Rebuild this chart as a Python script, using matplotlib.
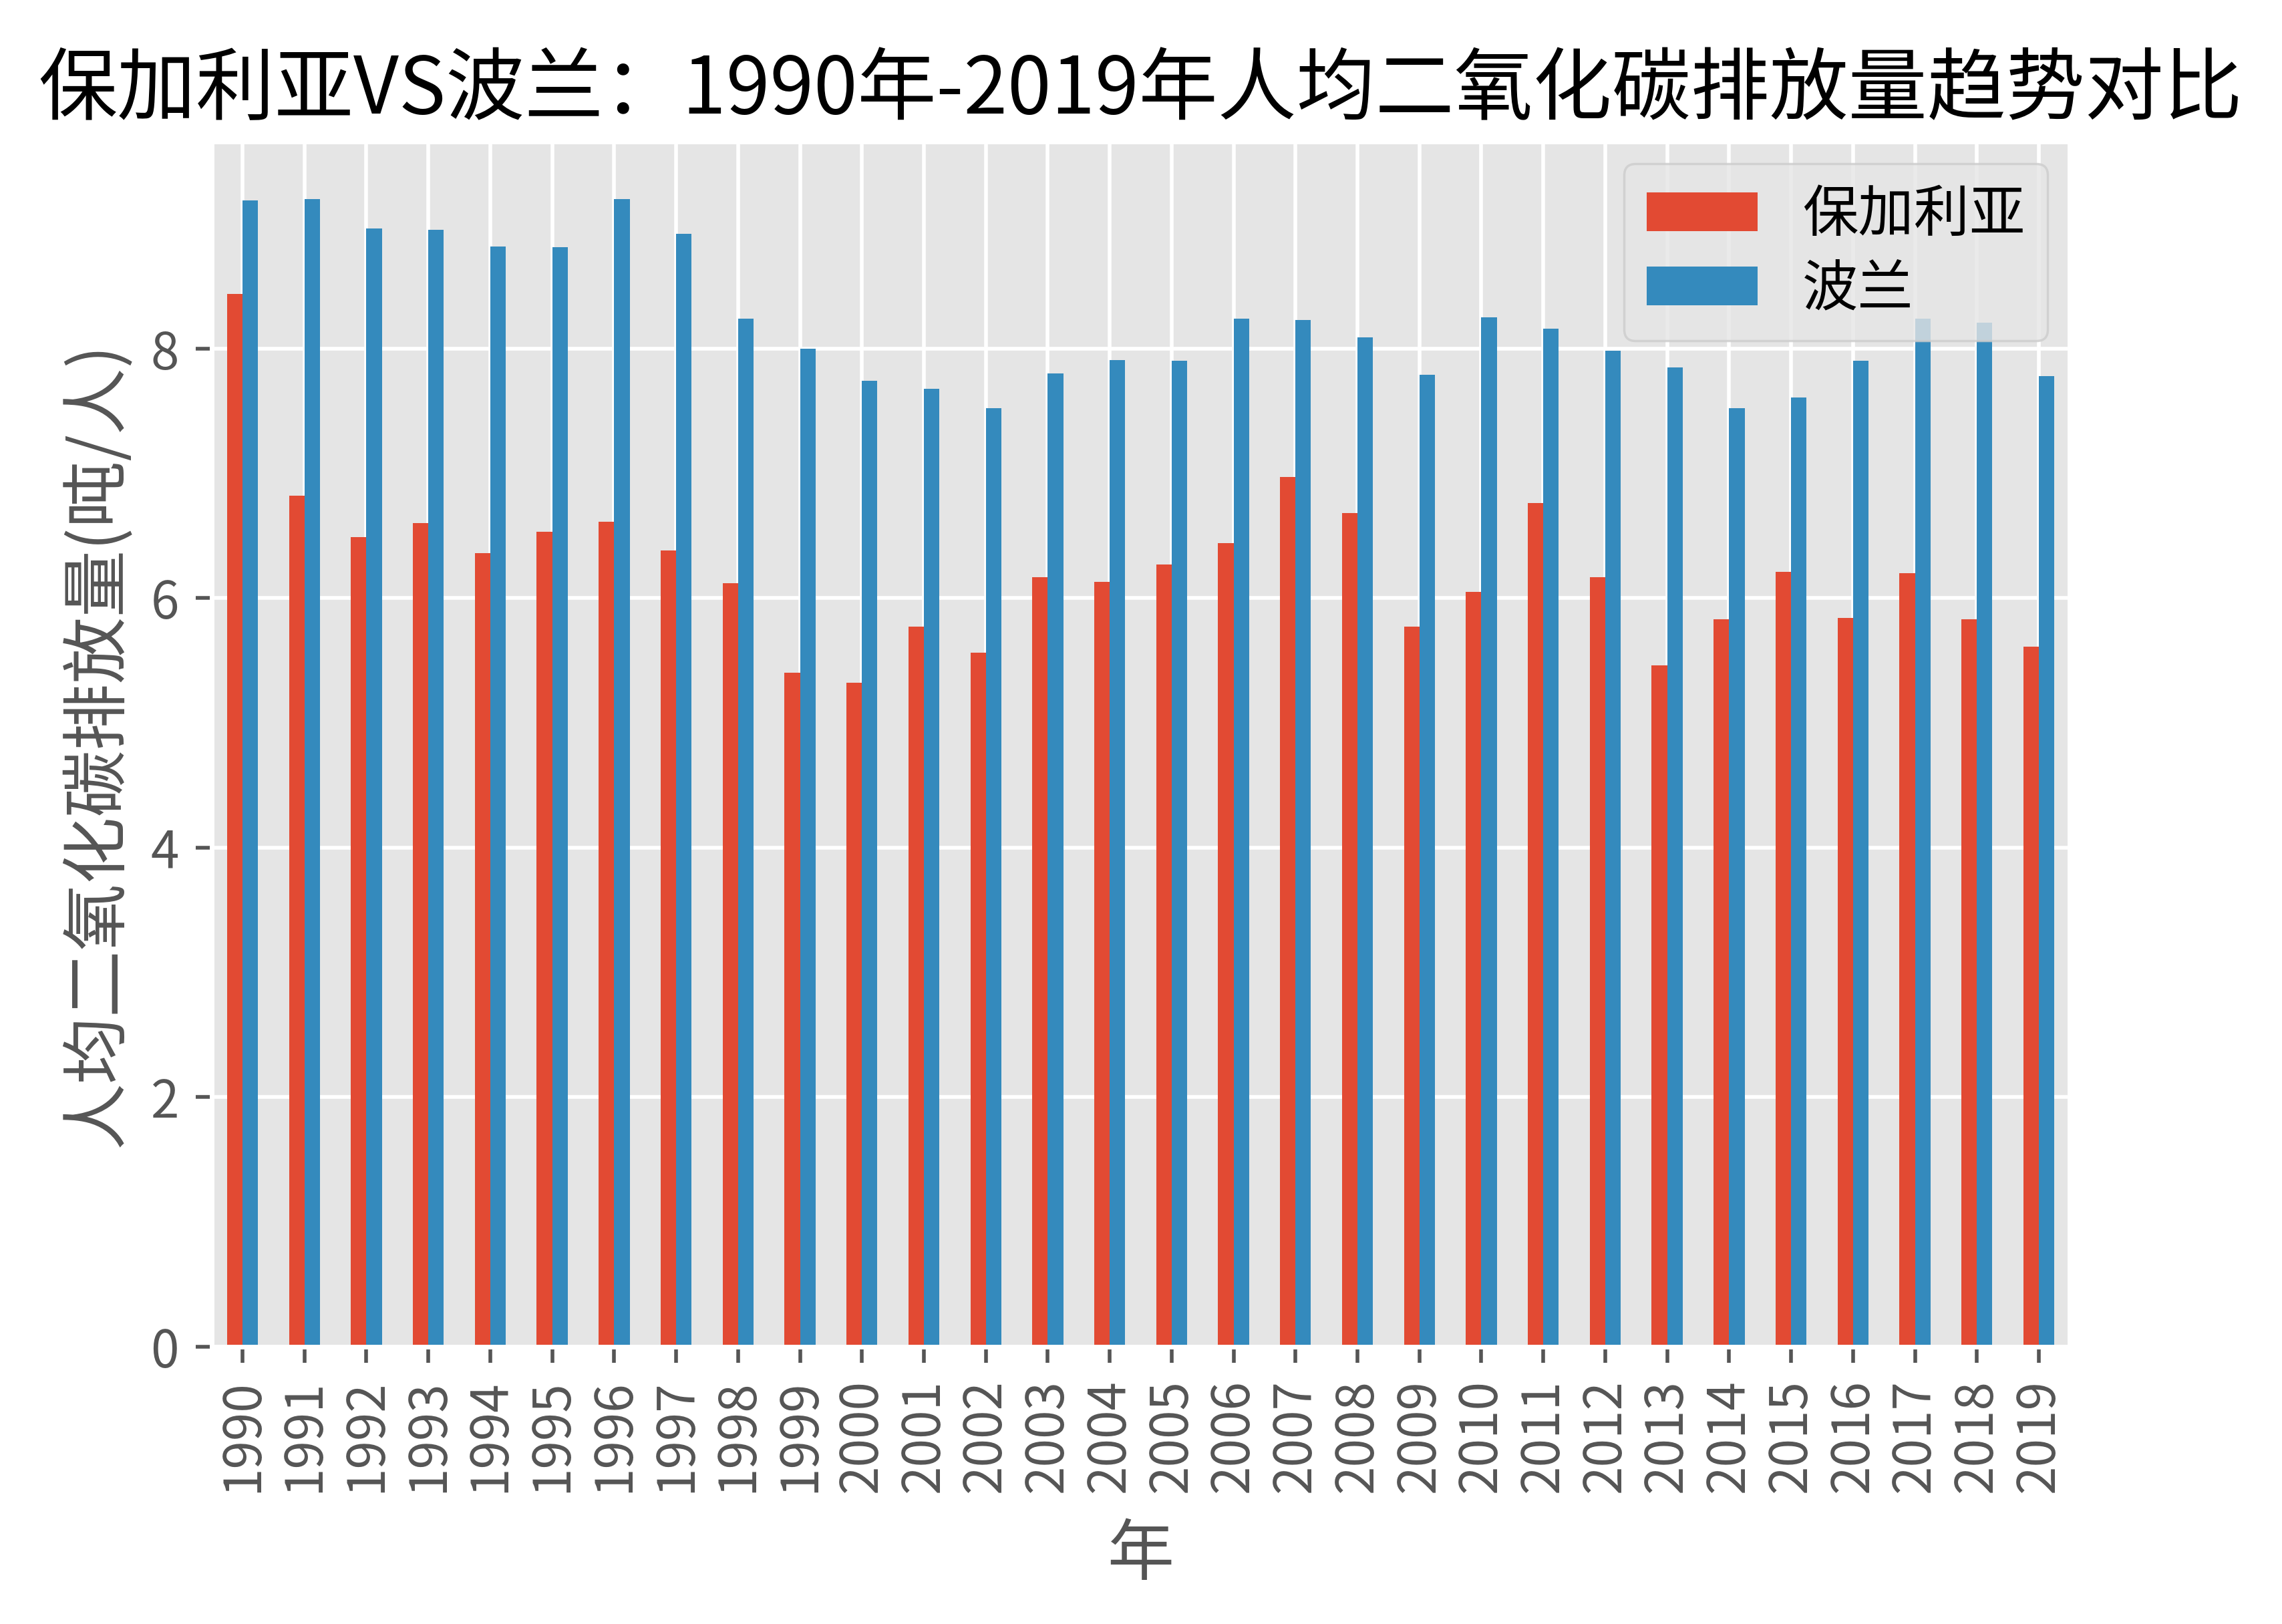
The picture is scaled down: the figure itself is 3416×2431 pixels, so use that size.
import numpy as np
import matplotlib
matplotlib.use('Agg')
import matplotlib.pyplot as plt

plt.style.use('ggplot')
plt.rcParams['font.family'] = ['Noto Sans CJK SC', 'DejaVu Sans']
plt.rcParams['font.size'] = 12

# 年份
years = [str(y) for y in range(1990, 2020)]

# 人均二氧化碳排放量(吨/人)
bulgaria = [8.44, 6.82, 6.49, 6.60, 6.36, 6.53, 6.61, 6.38, 6.12, 5.40,
            5.32, 5.77, 5.56, 6.17, 6.13, 6.27, 6.44, 6.97, 6.68, 5.77,
            6.05, 6.76, 6.17, 5.46, 5.83, 6.21, 5.84, 6.20, 5.83, 5.61]
poland = [9.19, 9.20, 8.96, 8.95, 8.82, 8.81, 9.20, 8.92, 8.24, 8.00,
          7.74, 7.68, 7.52, 7.80, 7.91, 7.90, 8.24, 8.23, 8.09, 7.79,
          8.25, 8.16, 7.98, 7.85, 7.52, 7.61, 7.90, 8.24, 8.21, 7.78]
series_names = ['保加利亚', '波兰']

fig = plt.figure(figsize=(6.832, 4.862), dpi=500)
ax = fig.add_axes([0.0927, 0.1708, 0.8143, 0.7421])

x = np.arange(len(years))
w = 0.25
ax.bar(x - w / 2, bulgaria, width=w, label=series_names[0])
ax.bar(x + w / 2, poland, width=w, label=series_names[1])

ax.set_xlim(-0.5, 29.5)
ax.set_xticks(x)
ax.set_xticklabels(years, rotation=90)
ax.tick_params(axis='both', labelsize=11)
ax.set_yticks([0, 2, 4, 6, 8])

ax.set_title('保加利亚VS波兰：1990年-2019年人均二氧化碳排放量趋势对比', fontsize=17)
ax.set_xlabel('年', labelpad=6)
ax.set_ylabel('人均二氧化碳排放量(吨/人)')
ax.legend(loc='upper right', labelspacing=0.3, borderaxespad=0.4)

fig.savefig('out.png', dpi=500)
